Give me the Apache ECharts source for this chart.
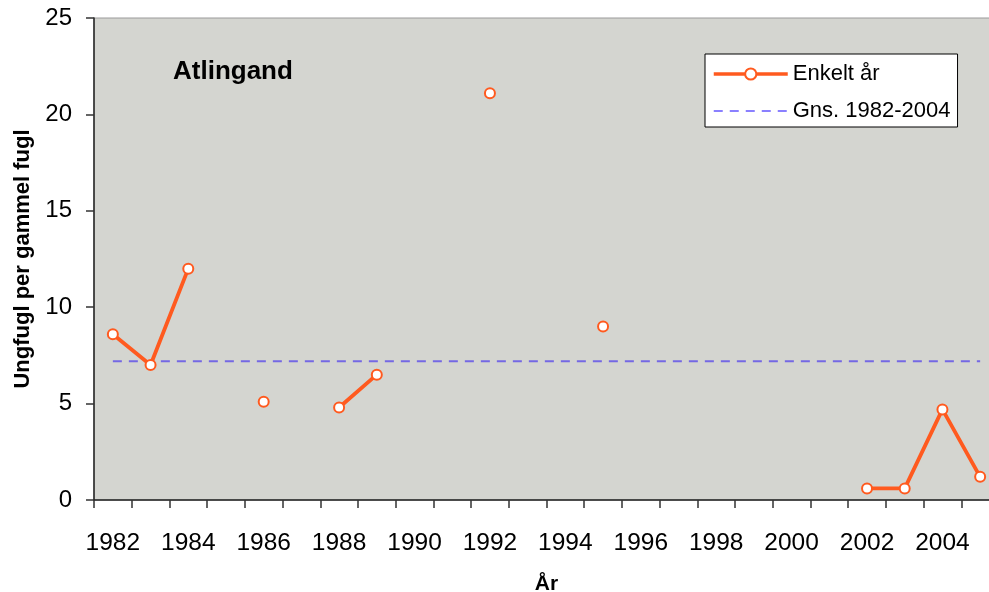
<!DOCTYPE html>
<html>
<head>
<meta charset="utf-8">
<script src="https://cdn.jsdelivr.net/npm/echarts@6/dist/echarts.min.js"></script>
<style>
  html, body { margin: 0; padding: 0; background: #fff; }
  #chart { width: 989px; height: 592px; }
</style>
</head>
<body>
<div id="chart"></div>
<script>
// years on the x axis
var years = ['1982','1983','1984','1985','1986','1987','1988','1989','1990','1991','1992','1993',
             '1994','1995','1996','1997','1998','1999','2000','2001','2002','2003','2004','2005'];
// young birds per adult bird, single years (null = no count)
var enkeltAr = [8.6, 7.0, 12.0, null, 5.1, null, 4.8, 6.5, null, null, 21.1, null,
                null, 9.0, null, null, null, null, null, null, 0.6, 0.6, 4.7, 1.2];
// mean 1982-2004
var gnsValue = 7.2;
var gns = years.map(function () { return gnsValue; });

var myChart = echarts.init(document.getElementById('chart'));
var font = 'Liberation Sans, Arial, sans-serif';

var option = {
    backgroundColor: '#ffffff',
    animation: false,
    textStyle: { fontFamily: font, color: '#000' },
    title: {
        text: 'Atlingand',
        left: 168,
        top: 54,
        textStyle: { fontFamily: font, fontSize: 26, fontWeight: 'bold', color: '#000' }
    },
    legend: {
        orient: 'vertical',
        left: 705,
        top: 54,
        padding: [9, 7, 5, 7],
        itemWidth: 74,
        itemHeight: 14,
        itemGap: 15,
        backgroundColor: '#ffffff',
        borderColor: '#000',
        borderWidth: 1,
        borderRadius: 0,
        textStyle: { fontFamily: font, fontSize: 22, color: '#000' },
        data: [
            { name: 'Enkelt år', lineStyle: { width: 3.5 } },
            { name: 'Gns. 1982-2004', itemStyle: { opacity: 0 }, lineStyle: { color: '#8a80ff' } }
        ]
    },
    grid: {
        left: 94,
        top: 18,
        width: 905,
        height: 482,
        outerBoundsMode: 'none',
        show: true,
        backgroundColor: '#d4d5d0',
        borderColor: '#9a9a9a',
        borderWidth: 1
    },
    xAxis: {
        type: 'category',
        data: years,
        boundaryGap: true,
        name: 'År',
        nameLocation: 'middle',
        nameGap: 74,
        nameTextStyle: { fontFamily: font, fontSize: 21, fontWeight: 'bold', color: '#000' },
        axisLine: { lineStyle: { color: '#222', width: 1.5 } },
        axisTick: { show: true, interval: 0, length: 8, lineStyle: { color: '#333', width: 1.5 } },
        axisLabel: { interval: 1, margin: 31, fontFamily: font, fontSize: 24.5, color: '#000' },
        splitLine: { show: false }
    },
    yAxis: {
        type: 'value',
        min: 0,
        max: 25,
        interval: 5,
        name: 'Ungfugl per gammel fugl',
        nameLocation: 'middle',
        nameGap: 60,
        nameTextStyle: { fontFamily: font, fontSize: 22, fontWeight: 'bold', color: '#000' },
        axisLine: { show: true, lineStyle: { color: '#222', width: 1.5 } },
        axisTick: { show: true, length: 8, lineStyle: { color: '#333', width: 1.5 } },
        axisLabel: { margin: 22, fontFamily: font, fontSize: 24, color: '#000' },
        splitLine: { show: false }
    },
    series: [
        {
            name: 'Enkelt år',
            type: 'line',
            data: enkeltAr,
            connectNulls: false,
            symbol: 'circle',
            symbolSize: 10,
            showAllSymbol: true,
            lineStyle: { color: '#ff5a1f', width: 3.8 },
            itemStyle: { color: '#ffffff', borderColor: '#ff5a1f', borderWidth: 2 },
            z: 3
        },
        {
            name: 'Gns. 1982-2004',
            type: 'line',
            data: gns,
            symbol: 'none',
            lineStyle: { color: '#7468e4', width: 2, type: [9, 7] },
            itemStyle: { color: '#7468e4' },
            z: 2
        }
    ]
};
myChart.setOption(option);
</script>
</body>
</html>
